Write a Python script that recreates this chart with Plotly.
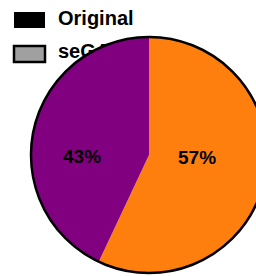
import plotly.graph_objects as go

# Data
slice_labels = ["seGAN", "Original"]
slice_values = [57, 43]
slice_colors = ["#FF7F0E", "#800080"]

legend_labels = ["Original", "seGAN"]
legend_fill = ["#000000", "#A0A0A0"]

W, H = 268, 276
cx, cy, r = 149, 155, 118
label_x = [197, 82]   # label anchor positions (layout)
label_y = [157, 156]

fig = go.Figure()

# legend drawn underneath the pie
for i, (lab, col) in enumerate(zip(legend_labels, legend_fill)):
    y0 = 12 + i * 34
    fig.add_shape(type="rect", xref="x", yref="y", x0=14, x1=45, y0=y0, y1=y0 + 16,
                  fillcolor=col, line=dict(color="#000000", width=0 if i == 0 else 2.5),
                  layer="below")
fig.add_trace(go.Scatter(
    x=[58, 58], y=[19.5, 52.5], mode="text", text=legend_labels,
    textposition="middle right",
    textfont=dict(family="Liberation Sans, Arial, sans-serif", size=20, color="#000000"),
    texttemplate="<b>%{text}</b>", hoverinfo="skip", showlegend=False))

dom = dict(x=[(cx - r) / W, (cx + r) / W], y=[(H - (cy + r)) / H, (H - (cy - r)) / H])

fig.add_trace(go.Pie(
    labels=slice_labels, values=slice_values, sort=False, direction="clockwise",
    rotation=0, marker=dict(colors=slice_colors, line=dict(width=0)),
    textinfo="none", domain=dom, showlegend=False, hoverinfo="skip"))

# outer outline as a single full slice
fig.add_trace(go.Pie(
    labels=["outline"], values=[1], marker=dict(colors=["rgba(0,0,0,0)"], line=dict(color="#000000", width=2.5)),
    textinfo="none", domain=dom, showlegend=False, hoverinfo="skip"))

total = sum(slice_values)
for v, lx, ly in zip(slice_values, label_x, label_y):
    fig.add_annotation(x=lx, y=ly, xref="x", yref="y", showarrow=False,
                       text="<b>%d%%</b>" % round(100 * v / total),
                       font=dict(family="Liberation Sans, Arial, sans-serif", size=19, color="#000000"))

fig.update_layout(
    width=W, height=H, autosize=False,
    margin=dict(l=0, r=0, t=0, b=0),
    paper_bgcolor="white", plot_bgcolor="rgba(0,0,0,0)",
    xaxis=dict(range=[0, W], visible=False, domain=[0, 1], fixedrange=True),
    yaxis=dict(range=[H, 0], visible=False, domain=[0, 1], fixedrange=True),
    showlegend=False,
)

fig.write_html("out.html", config={"displayModeBar": False},
               post_script="document.body.style.margin='0';document.body.style.overflow='hidden';document.documentElement.style.overflow='hidden';")
